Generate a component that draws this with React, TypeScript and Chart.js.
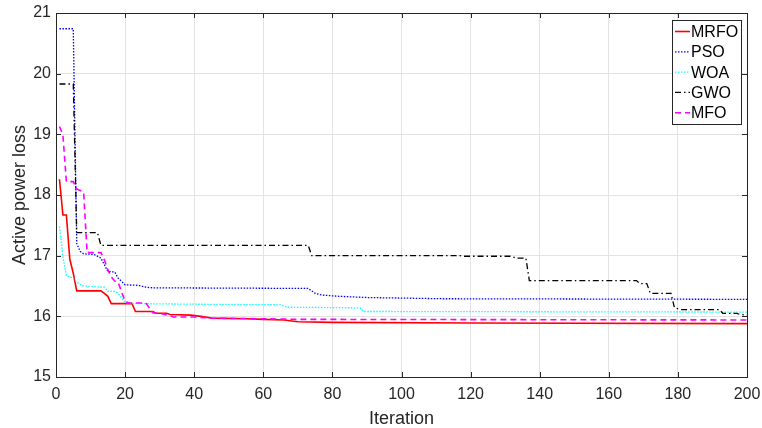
import React, { useEffect, useRef } from "react";
import { Chart, registerables } from "chart.js";

Chart.register(...registerables);

// Convergence data: [iteration, active power loss]
const mrfo: [number, number][] = [
  [1, 18.26], [2, 17.67], [3, 17.67], [4, 16.94], [5, 16.71], [6, 16.42], [13, 16.42],
  [14, 16.38], [15, 16.33], [16, 16.21], [22, 16.21], [23, 16.08], [28, 16.08], [29, 16.05],
  [32, 16.05], [33, 16.03], [39, 16.02], [42, 16.0], [45, 15.97], [55, 15.96], [60, 15.95],
  [66, 15.94], [70, 15.91], [80, 15.9], [120, 15.89], [200, 15.88],
];
const pso: [number, number][] = [
  [1, 20.74], [5, 20.74], [6, 17.2], [7, 17.07], [8, 17.03], [11, 17.02], [13, 16.96],
  [14, 16.85], [15, 16.74], [17, 16.73], [18, 16.63], [20, 16.52], [24, 16.51], [26, 16.48],
  [28, 16.47], [73, 16.46], [75, 16.38], [77, 16.35], [82, 16.33], [90, 16.31], [112, 16.29],
  [200, 16.28],
];
const woa: [number, number][] = [
  [1, 17.48], [2, 16.99], [3, 16.67], [5, 16.63], [6, 16.56], [8, 16.5], [14, 16.48],
  [15, 16.41], [17, 16.41], [18, 16.38], [20, 16.23], [22, 16.21], [40, 16.2], [65, 16.19],
  [67, 16.15], [88, 16.14], [89, 16.08], [200, 16.07],
];
const gwo: [number, number][] = [
  [1, 19.83], [5, 19.83], [6, 17.38], [12, 17.38], [13, 17.17], [73, 17.17], [74, 17.0],
  [117, 17.0], [118, 16.99], [132, 16.99], [133, 16.96], [136, 16.96], [137, 16.59],
  [168, 16.59], [169, 16.54], [171, 16.54], [172, 16.38], [178, 16.38], [179, 16.14],
  [181, 16.11], [192, 16.11], [193, 16.05], [197, 16.05], [198, 16.03], [200, 16.02],
];
const mfo: [number, number][] = [
  [1, 19.13], [2, 18.99], [3, 18.22], [5, 18.22], [6, 18.1], [8, 18.05], [9, 17.05],
  [13, 17.05], [14, 16.93], [15, 16.77], [16, 16.65], [17, 16.58], [18, 16.56], [19, 16.4],
  [20, 16.25], [21, 16.22], [26, 16.22], [27, 16.14], [28, 16.06], [31, 16.04], [34, 15.99],
  [40, 15.99], [45, 15.97], [60, 15.96], [70, 15.95], [200, 15.94],
];

const seriesNames = ["MRFO", "PSO", "WOA", "GWO", "MFO"];
const seriesData = [mrfo, pso, woa, gwo, mfo];
const seriesColors = ["#ff0000", "#0000ff", "#00ffff", "#000000", "#ff00ff"];
const seriesDash: number[][] = [[], [1.5, 1.5], [1.5, 1.5], [6, 3, 1.5, 3], [6, 4]];
const seriesWidth = [1.6, 1.3, 1.3, 1.3, 1.6];

const xMin = 0, xMax = 200, xStep = 20;
const yMin = 15, yMax = 21, yStep = 1;

const FONT = "'Liberation Sans', Arial, Helvetica, sans-serif";
const AXIS_COLOR = "#262626";

const framePlugin = {
  id: "matlabFrame",
  afterDraw(chart: any) {
    const { ctx, chartArea: a, scales } = chart;
    ctx.save();
    ctx.strokeStyle = AXIS_COLOR;
    ctx.lineWidth = 1;
    ctx.setLineDash([]);
    ctx.strokeRect(Math.round(a.left) + 0.5, Math.round(a.top) + 0.5, Math.round(a.right - a.left), Math.round(a.bottom - a.top));
    const tl = 5;
    ctx.beginPath();
    for (const t of scales.x.ticks) {
      const px = Math.round(scales.x.getPixelForValue(t.value)) + 0.5;
      ctx.moveTo(px, a.bottom); ctx.lineTo(px, a.bottom - tl);
      ctx.moveTo(px, a.top); ctx.lineTo(px, a.top + tl);
    }
    for (const t of scales.y.ticks) {
      const py = Math.round(scales.y.getPixelForValue(t.value)) + 0.5;
      ctx.moveTo(a.left, py); ctx.lineTo(a.left + tl, py);
      ctx.moveTo(a.right, py); ctx.lineTo(a.right - tl, py);
    }
    ctx.stroke();

    // legend box (inside, north-east)
    const bx = a.right - 75, by = a.top + 7, bw = 69, bh = 104;
    ctx.fillStyle = "#ffffff";
    ctx.fillRect(bx, by, bw, bh);
    ctx.strokeStyle = "#262626";
    ctx.strokeRect(Math.round(bx) + 0.5, Math.round(by) + 0.5, bw, bh);
    ctx.font = `16px ${FONT}`;
    ctx.textBaseline = "middle";
    ctx.textAlign = "left";
    seriesNames.forEach((n, i) => {
      const cy = by + 11.5 + i * 20.3;
      ctx.beginPath();
      ctx.strokeStyle = seriesColors[i];
      ctx.lineWidth = seriesWidth[i];
      ctx.setLineDash(seriesDash[i]);
      ctx.moveTo(bx + 3, cy);
      ctx.lineTo(bx + 18, cy);
      ctx.stroke();
      ctx.setLineDash([]);
      ctx.fillStyle = "#000000";
      ctx.fillText(n, bx + 19, cy + 1);
    });
    ctx.restore();
  },
};

export default function App() {
  const ref = useRef<HTMLCanvasElement>(null);
  useEffect(() => {
    document.body.style.margin = "0";
    const datasets = seriesData.map((d, i) => ({
      label: seriesNames[i],
      data: d.map(([x, y]) => ({ x, y })),
      borderColor: seriesColors[i],
      backgroundColor: seriesColors[i],
      borderWidth: seriesWidth[i],
      borderDash: seriesDash[i],
      pointRadius: 0,
      tension: 0,
      fill: false,
      order: 5 - i,
    }));
    const chart = new Chart(ref.current!, {
      type: "line",
      data: { datasets },
      plugins: [framePlugin],
      options: {
        animation: false,
        responsive: false,
        layout: { padding: { top: 13, right: 15, left: 0, bottom: 0 } },
        plugins: { legend: { display: false }, tooltip: { enabled: false } },
        scales: {
          x: {
            type: "linear",
            min: xMin,
            max: xMax,
            afterFit: (s: any) => { s.height = 51; s.paddingLeft = 0; s.paddingRight = 0; },
            ticks: { stepSize: xStep, padding: 8, color: AXIS_COLOR, font: { family: FONT, size: 16 }, maxRotation: 0 },
            grid: { color: "#e3e3e3", drawTicks: false },
            border: { display: false },
            title: { display: true, text: "Iteration", color: AXIS_COLOR, font: { family: FONT, size: 18, lineHeight: 1 }, padding: { top: 0, bottom: 0 } },
          },
          y: {
            type: "linear",
            min: yMin,
            max: yMax,
            afterFit: (s: any) => { s.width = 56; s.paddingTop = 0; s.paddingBottom = 0; },
            ticks: { stepSize: yStep, padding: 5, color: AXIS_COLOR, font: { family: FONT, size: 16 } },
            grid: { color: "#e3e3e3", drawTicks: false },
            border: { display: false },
            title: { display: true, text: "Active power loss", color: AXIS_COLOR, font: { family: FONT, size: 18, lineHeight: 1 }, padding: { top: 11, bottom: 0 } },
          },
        },
      },
    });
    return () => chart.destroy();
  }, []);
  return <canvas ref={ref} width={762} height={428} style={{ display: "block" }} />;
}
